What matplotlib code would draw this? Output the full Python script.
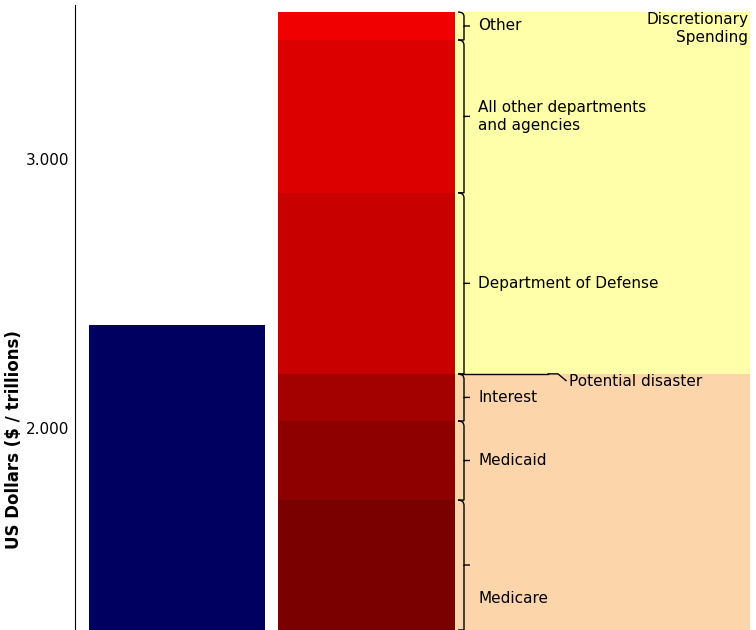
import matplotlib
matplotlib.use("Agg")
import matplotlib.pyplot as plt
from matplotlib.path import Path
from matplotlib.patches import PathPatch, Rectangle

revenue = 2.383
seg_names = ["Medicare", "Medicaid", "Interest", "Department of Defense",
             "All other departments\nand agencies", "Other"]
seg_tops = [1.732, 2.026, 2.201, 2.874, 3.442, 3.546]
seg_colors = ["#7a0000", "#8e0000", "#a30000", "#c80000", "#dc0000", "#f00000"]
ymin, ymax = 1.249, 3.572

fig = plt.figure(figsize=(7.56, 6.3), dpi=100)
ax = fig.add_axes([75/756, 0, 681/756, 625/630])
ax.set_xlim(75, 756)
ax.set_ylim(ymin, ymax)

# backgrounds
ax.add_patch(Rectangle((455, seg_tops[2]), 295, seg_tops[-1]-seg_tops[2], color="#ffffaa", lw=0, zorder=0))
ax.add_patch(Rectangle((455, ymin), 295, seg_tops[2]-ymin, color="#fdd5aa", lw=0, zorder=0))

ax.bar(177, revenue - ymin, bottom=ymin, width=176, color="#000060", zorder=2)
bottom = ymin
for top, c in zip(seg_tops, seg_colors):
    ax.bar(366.5, top - bottom, bottom=bottom, width=177, color=c, zorder=2)
    bottom = top

def brace(y0, y1, x0=458, w=12):
    ym = (y0 + y1) / 2
    d = min(0.02, (y1 - y0) / 6)
    xm = x0 + w/2
    verts = [(x0, y1), (xm, y1), (xm, y1 - d), (xm, y1 - d),
             (xm, ym + d), (xm, ym + d), (xm, ym), (x0 + w, ym),
             (xm, ym), (xm, ym - d), (xm, ym - d),
             (xm, y0 + d), (xm, y0 + d), (xm, y0), (x0, y0)]
    codes = [Path.MOVETO, Path.CURVE3, Path.CURVE3, Path.LINETO,
             Path.LINETO, Path.CURVE3, Path.CURVE3, Path.LINETO,
             Path.MOVETO, Path.CURVE3, Path.CURVE3,
             Path.LINETO, Path.CURVE3, Path.CURVE3, Path.LINETO]
    ax.add_patch(PathPatch(Path(verts, codes), fill=False, lw=1, color="black", zorder=3))
    return ym

bottom = ymin
for name, top in zip(seg_names, seg_tops):
    ym = brace(bottom, top)
    if name == "Medicare":
        ym = 1.365
    ax.text(478, ym, name, va="center", ha="left", fontsize=11, zorder=4)
    bottom = top

ax.plot([460, 548], [seg_tops[2], seg_tops[2]], color="black", lw=1, zorder=3)
ax.plot([548, 558, 566], [seg_tops[2], seg_tops[2], seg_tops[2]-0.025], color="black", lw=1, zorder=3)
ax.text(569, seg_tops[2]-0.03, "Potential disaster", va="center", ha="left", fontsize=11, zorder=4)
ax.text(748, 3.545, "Discretionary\nSpending", va="top", ha="right", fontsize=11, zorder=4)

for s in ["top", "right", "bottom"]:
    ax.spines[s].set_visible(False)
ax.set_xticks([])
ax.set_yticks([2.0, 3.0])
ax.set_yticklabels(["2.000", "3.000"], fontsize=11)
ax.tick_params(axis="y", length=0, pad=4)
fig.text(14/756, 1 - 440/630, "US Dollars ($ / trillions)", rotation=90, va="center", ha="center",
         fontsize=12, fontweight="bold")
fig.savefig("out.png", dpi=100)
